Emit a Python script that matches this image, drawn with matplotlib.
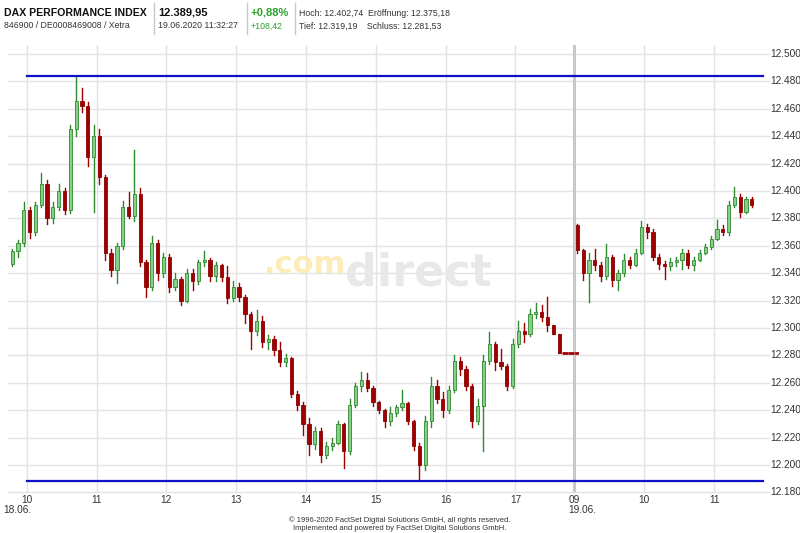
import matplotlib
matplotlib.use("Agg")
import matplotlib.pyplot as plt
from matplotlib.transforms import blended_transform_factory as btf

plt.rcParams['font.family'] = ['Liberation Sans', 'DejaVu Sans']

# ---------------- data (5-minute candles) ----------------
day1_start = 9.75          # 18.06.2020, first candle 09:45
d1_open = [12347, 12356, 12362, 12386, 12370, 12390, 12405, 12380, 12388, 12400,
           12386, 12445, 12466, 12462, 12425, 12440, 12410, 12355, 12342, 12360,
           12388, 12382, 12398, 12348, 12330, 12362, 12340, 12352, 12330, 12336,
           12320, 12340, 12334, 12348, 12350, 12338, 12346, 12337, 12322, 12330,
           12323, 12310, 12298, 12305, 12290, 12292, 12284, 12275, 12278, 12252,
           12244, 12230, 12215, 12225, 12207, 12214, 12216, 12230, 12210, 12244,
           12258, 12262, 12256, 12246, 12240, 12232, 12238, 12242, 12245, 12232,
           12214, 12200, 12232, 12258, 12248, 12240, 12255, 12276, 12270, 12258,
           12232, 12243, 12276, 12288, 12275, 12272, 12258, 12288, 12298, 12296,
           12310, 12312, 12308, 12302, 12296, 12281.53, 12281.53]
d1_high = [12358, 12364, 12392, 12388, 12392, 12413, 12408, 12392, 12405, 12402,
           12448, 12484, 12475, 12465, 12448, 12445, 12412, 12358, 12362, 12393,
           12399, 12430, 12402, 12350, 12367, 12364, 12355, 12354, 12340, 12337,
           12343, 12343, 12350, 12356, 12351, 12348, 12347, 12345, 12334, 12333,
           12324, 12312, 12313, 12309, 12295, 12294, 12290, 12281, 12279, 12254,
           12246, 12234, 12228, 12227, 12217, 12220, 12232, 12231, 12248, 12260,
           12268, 12267, 12258, 12247, 12241, 12242, 12244, 12255, 12246, 12233,
           12216, 12236, 12264, 12262, 12253, 12258, 12280, 12279, 12272, 12259,
           12248, 12280, 12297, 12290, 12285, 12274, 12292, 12305, 12304, 12314,
           12318, 12317, 12323, 12302, 12296, 12281.53, 12281.53]
d1_low = [12345, 12352, 12360, 12366, 12368, 12388, 12376, 12377, 12386, 12383,
          12384, 12440, 12458, 12418, 12385, 12405, 12350, 12338, 12333, 12358,
          12380, 12378, 12345, 12323, 12328, 12335, 12337, 12326, 12328, 12317,
          12319, 12328, 12332, 12345, 12334, 12334, 12334, 12318, 12320, 12320,
          12304, 12285, 12295, 12286, 12285, 12280, 12272, 12272, 12250, 12240,
          12222, 12207, 12212, 12202, 12205, 12211, 12215, 12198, 12208, 12242,
          12254, 12254, 12243, 12238, 12228, 12229, 12236, 12240, 12230, 12211,
          12189, 12196, 12228, 12245, 12235, 12238, 12253, 12266, 12255, 12228,
          12230, 12210, 12274, 12269, 12270, 12255, 12256, 12286, 12290, 12294,
          12307, 12305, 12298, 12296, 12281.53, 12281.53, 12281.53]
d1_close = [12356, 12362, 12386, 12370, 12390, 12405, 12380, 12388, 12400, 12386,
            12445, 12466, 12462, 12425, 12440, 12410, 12355, 12342, 12360, 12388,
            12382, 12398, 12348, 12330, 12362, 12340, 12352, 12330, 12336, 12320,
            12340, 12334, 12348, 12350, 12338, 12346, 12337, 12322, 12330, 12323,
            12310, 12298, 12305, 12290, 12292, 12284, 12275, 12278, 12252, 12244,
            12230, 12215, 12225, 12207, 12214, 12216, 12230, 12210, 12244, 12258,
            12262, 12256, 12246, 12240, 12232, 12238, 12242, 12245, 12232, 12214,
            12200, 12232, 12258, 12248, 12240, 12255, 12276, 12270, 12258, 12232,
            12243, 12276, 12288, 12275, 12272, 12258, 12288, 12298, 12296, 12310,
            12312, 12308, 12302, 12296, 12281.53, 12281.53, 12281.53]
d1_last_tick = 12281.53    # lone print just before the day break

day2_start = 9.0           # 19.06.2020, first candle 09:00
d2_open = [12375.18, 12357, 12340, 12350, 12346, 12338, 12352, 12335, 12340, 12350,
           12346, 12355, 12374, 12370, 12352, 12347, 12345, 12348, 12350, 12355,
           12346, 12350, 12355, 12359, 12365, 12372, 12370, 12390, 12396, 12385,
           12394]
d2_high = [12376, 12358, 12355, 12358, 12348, 12361, 12353, 12342, 12354, 12352,
           12358, 12378, 12376, 12372, 12354, 12349, 12351, 12352, 12358, 12357,
           12352, 12357, 12361, 12367, 12379, 12375, 12393, 12402.74, 12398, 12396,
           12396]
d2_low = [12355, 12335, 12319.19, 12342, 12334, 12336, 12331, 12328, 12338, 12344,
          12345, 12354, 12366, 12350, 12343, 12336, 12342, 12345, 12343, 12344,
          12342, 12349, 12354, 12358, 12364, 12368, 12368, 12388, 12381, 12384,
          12388]
d2_close = [12357, 12340, 12350, 12346, 12338, 12352, 12335, 12340, 12350, 12346,
            12355, 12374, 12370, 12352, 12347, 12345, 12348, 12350, 12355, 12346,
            12350, 12355, 12359, 12365, 12372, 12370, 12390, 12396, 12385, 12394,
            12389.95]

two_day_high = 12484
two_day_low = 12188

y_ticks = list(range(12180, 12501, 20))
day1_hours = [10, 11, 12, 13, 14, 15, 16, 17]
day2_hours = [9, 10, 11]

# ---------------- layout ----------------
W, H = 800, 533
DAY2_SHIFT = 8.844          # day-2 clock hour + shift -> common axis
X0, X1 = 9.732, 20.588
Y0, Y1 = 12180.3, 12506.6
left_px, right_px, top_px, bot_px = 8, 766, 45, 492

fig = plt.figure(figsize=(W / 100, H / 100), dpi=100)
ax = fig.add_axes([left_px / W, 1 - bot_px / H, (right_px - left_px) / W, (bot_px - top_px) / H])
ax.set_xlim(X0, X1)
ax.set_ylim(Y0, Y1)
ax.set_xticks([])
ax.set_yticks([])
for s in ax.spines.values():
    s.set_visible(False)

GRID = '#e3e3e3'
TXT = '#333333'
ytr = ax.get_yaxis_transform()
lab_y = btf(fig.transFigure, ax.transData)
for v in y_ticks:
    ax.plot([0, 1.004], [v, v], transform=ytr, color=GRID, lw=1, clip_on=False, zorder=0)
    fig.text(770 / W, v, f"{v:,}".replace(',', '.'), transform=lab_y,
             ha='left', va='center', fontsize=7.3, color=TXT)

xtr = ax.get_xaxis_transform()
for hh in day1_hours:
    ax.plot([hh, hh], [0, 1], transform=xtr, color=GRID, lw=1, zorder=0)
for hh in day2_hours:
    u = hh + DAY2_SHIFT
    if hh == 9:
        ax.plot([u, u], [0, 1], transform=xtr, color='#c8c8c8', lw=2.2, zorder=0)
    else:
        ax.plot([u, u], [0, 1], transform=xtr, color=GRID, lw=1, zorder=0)

lab_tr = btf(ax.transData, fig.transFigure)
for hh in day1_hours:
    ax.text(hh, 1 - 500 / H, f"{hh:02d}", transform=lab_tr, ha='center', va='center',
            fontsize=7.3, color=TXT)
for hh in day2_hours:
    ax.text(hh + DAY2_SHIFT, 1 - 500 / H, f"{hh:02d}", transform=lab_tr, ha='center', va='center',
            fontsize=7.3, color=TXT)
fig.text(3 / W, 1 - 510 / H, "18.06.", ha='left', va='center', fontsize=7.3, color=TXT)
ax.text(day2_hours[0] + DAY2_SHIFT - 0.085, 1 - 510 / H, "19.06.", transform=lab_tr,
        ha='left', va='center', fontsize=7.3, color=TXT)

# watermark
ax.text(346 / W, 1 - 273 / H, ".com", transform=fig.transFigure, fontsize=22, fontweight='bold',
        family='DejaVu Sans', color='#fdebb8', ha='right', va='baseline', zorder=0.5)
ax.text(345 / W, 1 - 273 / H, "direct", transform=fig.transFigure, fontsize=32, fontweight='bold',
        family='DejaVu Sans', color='#e8e8e8', ha='left', va='center', zorder=0.5)

# candles
GREEN_F, GREEN_E = '#86cf86', '#2f8a2f'
RED_F, RED_E = '#a00000', '#8a0000'
step = 5 / 60
bw = step * 0.55

def draw_day(start, shift, o, h, l, c):
    for i in range(len(o)):
        x = start + shift + i * step + step / 2
        up = c[i] > o[i]
        if o[i] == c[i]:
            if h[i] != l[i]:
                ax.plot([x, x], [l[i], h[i]], color=RED_F, lw=1, zorder=2)
            ax.plot([x - step / 2, x + step / 2], [c[i], c[i]], color=RED_F, lw=2, zorder=3,
                    solid_capstyle='butt')
            continue
        col_e = GREEN_E if up else RED_E
        col_f = GREEN_F if up else RED_F
        ax.plot([x, x], [l[i], h[i]], color=col_e if up else RED_F, lw=1, zorder=2)
        lo, hi = min(o[i], c[i]), max(o[i], c[i])
        ax.bar(x, hi - lo, bottom=lo, width=bw, color=col_f, edgecolor=col_e, linewidth=0.6,
               zorder=3)

draw_day(day1_start, 0, d1_open, d1_high, d1_low, d1_close)
draw_day(day2_start, DAY2_SHIFT, d2_open, d2_high, d2_low, d2_close)
x_last = day1_start + len(d1_open) * 5 / 60 + 0.03
ax.plot([x_last, x_last + 0.02], [d1_last_tick, d1_last_tick], color=RED_F, lw=2, zorder=3)

# two-day high / low lines
x_end = 11.7 + DAY2_SHIFT
ax.plot([10.0, x_end], [two_day_high, two_day_high], color='#1010c8', lw=1.6, zorder=4)
ax.plot([10.0, x_end], [two_day_low, two_day_low], color='#1010c8', lw=1.6, zorder=4)

# header
def hdr(x, y, s, **kw):
    fig.text(x / W, 1 - y / H, s, ha='left', va='center', **kw)

hdr(4, 12.5, "DAX PERFORMANCE INDEX", fontsize=7.6, fontweight='bold', color='#111111')
hdr(4, 26, "846900 / DE0008469008 / Xetra", fontsize=6.3, color=TXT)
hdr(158, 12.5, "12.389,95", fontsize=8, fontweight='bold', color='#111111')
hdr(158, 26, "19.06.2020 11:32:27", fontsize=6.3, color=TXT)
hdr(251, 12.5, "+0,88%", fontsize=8, fontweight='bold', color='#2aa02a')
hdr(251, 26, "+108,42", fontsize=6.3, color='#2aa02a')
hdr(299, 13, "Hoch: 12.402,74  Eröffnung: 12.375,18", fontsize=6.3, color=TXT)
hdr(299, 26, "Tief: 12.319,19    Schluss: 12.281,53", fontsize=6.3, color=TXT)
for xs in (154, 247, 295):
    fig.add_artist(plt.Line2D([xs / W, xs / W], [1 - 3 / H, 1 - 34 / H], color='#c8c8c8', lw=1))

# footer
fig.text(400 / W, 1 - 520 / H, "\u00a9 1996-2020 FactSet Digital Solutions GmbH, all rights reserved.",
         ha='center', va='center', fontsize=5.5, color=TXT)
fig.text(400 / W, 1 - 529 / H, "Implemented and powered by FactSet Digital Solutions GmbH.",
         ha='center', va='center', fontsize=5.5, color=TXT)

fig.savefig("out.png", dpi=100)
